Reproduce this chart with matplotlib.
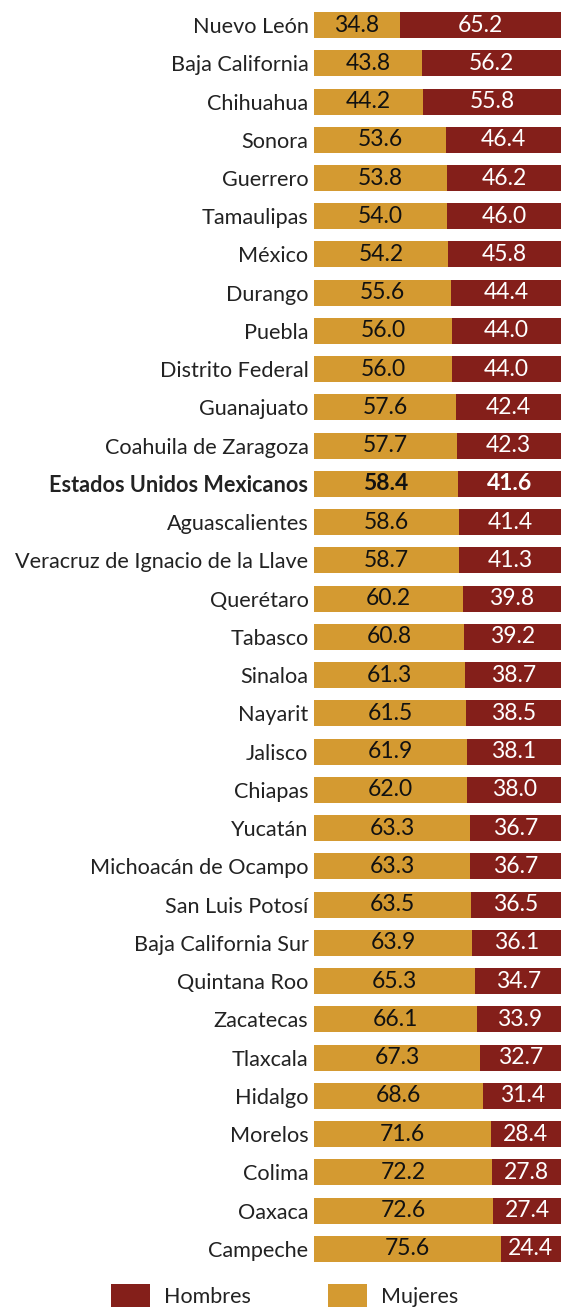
import matplotlib.pyplot as plt

estados = [
    "Nuevo León", "Baja California", "Chihuahua", "Sonora", "Guerrero",
    "Tamaulipas", "México", "Durango", "Puebla", "Distrito Federal",
    "Guanajuato", "Coahuila de Zaragoza", "Estados Unidos Mexicanos",
    "Aguascalientes", "Veracruz de Ignacio de la Llave", "Querétaro",
    "Tabasco", "Sinaloa", "Nayarit", "Jalisco", "Chiapas", "Yucatán",
    "Michoacán de Ocampo", "San Luis Potosí", "Baja California Sur",
    "Quintana Roo", "Zacatecas", "Tlaxcala", "Hidalgo", "Morelos",
    "Colima", "Oaxaca", "Campeche",
]
mujeres = [
    34.8, 43.8, 44.2, 53.6, 53.8, 54.0, 54.2, 55.6, 56.0, 56.0, 57.6, 57.7,
    58.4, 58.6, 58.7, 60.2, 60.8, 61.3, 61.5, 61.9, 62.0, 63.3, 63.3, 63.5,
    63.9, 65.3, 66.1, 67.3, 68.6, 71.6, 72.2, 72.6, 75.6,
]
hombres = [
    65.2, 56.2, 55.8, 46.4, 46.2, 46.0, 45.8, 44.4, 44.0, 44.0, 42.4, 42.3,
    41.6, 41.4, 41.3, 39.8, 39.2, 38.7, 38.5, 38.1, 38.0, 36.7, 36.7, 36.5,
    36.1, 34.7, 33.9, 32.7, 31.4, 28.4, 27.8, 27.4, 24.4,
]
total = "Estados Unidos Mexicanos"

c_muj = "#D49A31"
c_hom = "#841F1A"
plt.rcParams["font.family"] = ["Lato", "DejaVu Sans"]

fig = plt.figure(figsize=(5.61, 13.11), dpi=100)
ax = fig.add_axes([314 / 561, 0.0328, 1 - 314 / 561, 0.9955 - 0.0328])

y = list(range(len(estados)))
b1 = ax.barh(y, mujeres, height=0.68, color=c_muj, label="Mujeres")
b2 = ax.barh(y, hombres, left=mujeres, height=0.68, color=c_hom, label="Hombres")

for i, (m, h, name) in enumerate(zip(mujeres, hombres, estados)):
    w = "bold" if name == total else "normal"
    ax.text(m / 2, i, f"{m:.1f}", ha="center", va="center", fontsize=16.5,
            color="#111111", fontweight=w)
    ax.text(m + h / 2, i, f"{h:.1f}", ha="center", va="center", fontsize=16.5,
            color="white", fontweight=w)

ax.set_xlim(0, 100)
ax.set_ylim(len(estados) - 0.5, -0.5)
ax.set_yticks(y)
ax.set_yticklabels(estados, fontsize=15.6, color="#222222")
for lbl in ax.get_yticklabels():
    if lbl.get_text() == total:
        lbl.set_fontweight("bold")
ax.tick_params(axis="y", length=0, pad=4)
ax.set_xticks([])
for s in ax.spines.values():
    s.set_visible(False)

fig.legend(handles=[b2, b1], labels=["Hombres", "Mujeres"], loc="lower left",
           bbox_to_anchor=(100 / 561, -0.005), ncol=2, frameon=False,
           borderpad=0, fontsize=15.5, handlelength=1.8, handleheight=1.2,
           columnspacing=3.6, handletextpad=0.65, labelcolor="#222222")

fig.savefig("out.png", dpi=100)
